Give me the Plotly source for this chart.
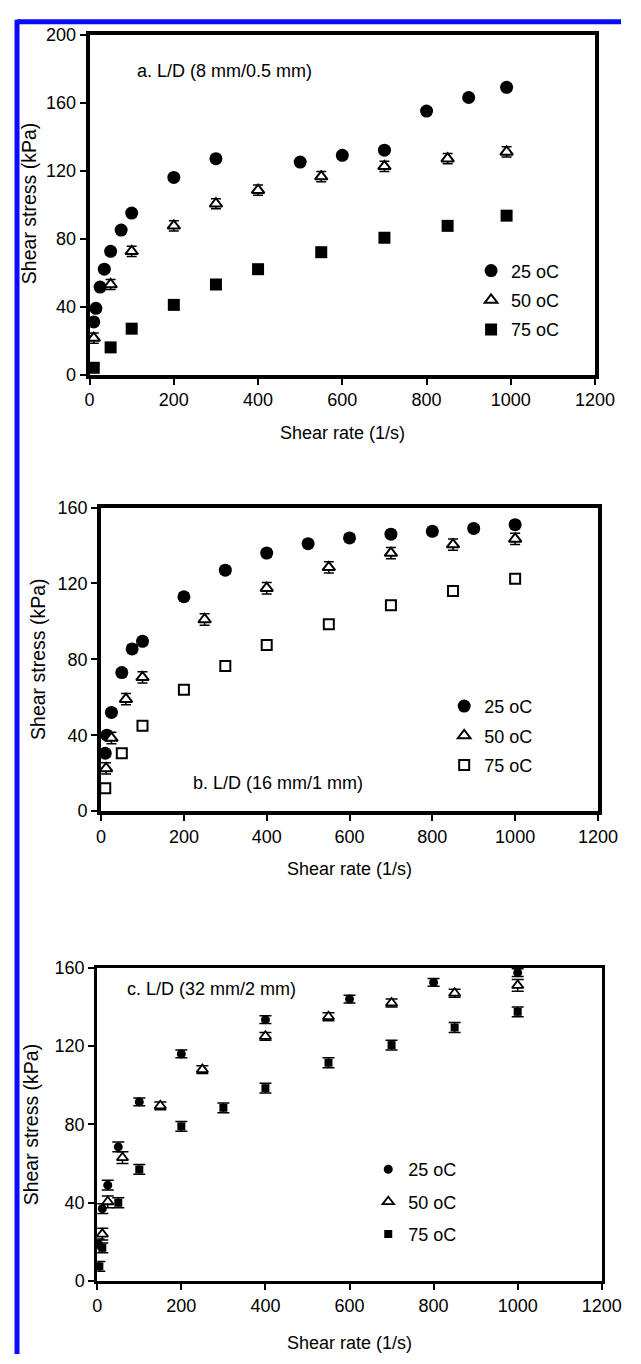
import plotly.graph_objects as go

W, H = 641, 1364

# ---------------- data ----------------
temps = ["25 oC", "50 oC", "75 oC"]

# Panel a: L/D (8 mm/0.5 mm)
a_x25 = [10, 15, 25, 35, 50, 75, 100, 200, 300, 500, 600, 700, 800, 900, 990]
a_y25 = [31, 39, 51.5, 62, 72.5, 85, 95, 116, 127, 125, 129, 132, 155, 163, 169]
a_e25 = [2, 2, 2, 2, 2, 2, 2, 2, 2, 2, 2, 2, 2, 2, 2]
a_x50 = [10, 50, 100, 200, 300, 400, 550, 700, 850, 990]
a_y50 = [21.5, 53, 72.5, 87.5, 100.5, 108.5, 116.5, 122.5, 127, 131]
a_e50 = [3, 3, 3, 3, 3, 3, 3, 3, 3, 3]
a_x75 = [10, 50, 100, 200, 300, 400, 550, 700, 850, 990]
a_y75 = [4, 16, 27, 41, 53, 62, 72, 80.5, 87.5, 93.5]
a_e75 = [2, 2, 2, 2, 2, 2, 2, 2, 2, 2]

# Panel b: L/D (16 mm/1 mm)
b_x25 = [10, 14, 25, 50, 75, 100, 200, 300, 400, 500, 600, 700, 800, 900, 1000]
b_y25 = [30.5, 40, 52, 73, 85.5, 89.5, 113, 127, 136, 141, 144, 146, 147.5, 149, 151]
b_e25 = [2, 2, 2, 2, 2, 2, 2, 2, 2, 2, 2, 2, 2, 2, 2]
b_x50 = [12, 25, 60, 100, 250, 400, 550, 700, 850, 1000]
b_y50 = [22.5, 38.5, 59, 70.5, 101, 117.5, 128.5, 136, 140.5, 143.5]
b_e50 = [3, 3, 3, 3, 3, 3, 3, 3, 3, 3]
b_x75 = [10, 50, 100, 200, 300, 400, 550, 700, 850, 1000]
b_y75 = [12, 30.5, 45, 64, 76.5, 87.5, 98.5, 108.5, 116, 122.5]
b_e75 = [1.5, 1.5, 1.5, 1.5, 1.5, 1.5, 1.5, 1.5, 1.5, 1.5]

# Panel c: L/D (32 mm/2 mm)
c_x25 = [3, 12, 25, 50, 100, 200, 400, 600, 800, 1000]
c_y25 = [19, 37, 49, 68.5, 91.5, 116, 133.5, 144, 152.5, 157.5]
c_e25 = [2.5, 2.5, 2.5, 2.5, 2, 2, 2, 2, 2, 2]
c_x50 = [12, 25, 60, 150, 250, 400, 550, 700, 850, 1000]
c_y50 = [24, 40.5, 63, 89.5, 108, 125, 135, 142, 147, 151]
c_e50 = [3, 3, 3, 2, 2, 2, 2, 2, 2, 3]
c_x75 = [5, 12, 50, 100, 200, 300, 400, 550, 700, 850, 1000]
c_y75 = [7.5, 17, 40, 57, 79, 88.5, 98.5, 111.5, 120.5, 129.5, 137.5]
c_e75 = [2.5, 2.5, 2.5, 2.5, 2.5, 2.5, 2.5, 2.5, 2.5, 2.5, 2.5]

panel_labels = ["a. L/D (8 mm/0.5 mm)", "b. L/D (16 mm/1 mm)", "c. L/D (32 mm/2 mm)"]
x_title = "Shear rate (1/s)"
y_title = "Shear stress (kPa)"
x_ticks = [0, 200, 400, 600, 800, 1000, 1200]
a_y_ticks = [0, 40, 80, 120, 160, 200]
bc_y_ticks = [0, 40, 80, 120, 160]

# ---------------- helpers ----------------
FONT = "Liberation Sans, Arial, sans-serif"

def px(x):
    return x / W

def py(y):
    return 1 - y / H

fig = go.Figure()

def add_series(x, y, e, name, axis_n, legend_name, symbol, size, fill, lw, capw, group):
    xa = "x" if axis_n == 1 else f"x{axis_n}"
    ya = "y" if axis_n == 1 else f"y{axis_n}"
    fig.add_trace(go.Scatter(
        x=x, y=y, mode="markers", name=name,
        xaxis=xa, yaxis=ya, legend=legend_name, legendgroup=group,
        marker=dict(symbol=symbol, size=size, color=fill,
                    line=dict(color="black", width=lw)),
        error_y=dict(type="data", array=e, visible=True, color="black",
                     thickness=1.5, width=capw),
        cliponaxis=False,
    ))

# panel a
add_series(a_x25, a_y25, a_e25, temps[0], 1, "legend", "circle", 13, "black", 0, 5, "a25")
add_series(a_x50, a_y50, a_e50, temps[1], 1, "legend", "triangle-up", 11, "white", 2, 5, "a50")
add_series(a_x75, a_y75, a_e75, temps[2], 1, "legend", "square", 12, "black", 0, 5, "a75")
# panel b
add_series(b_x25, b_y25, b_e25, temps[0], 2, "legend2", "circle", 13, "black", 0, 5, "b25")
add_series(b_x50, b_y50, b_e50, temps[1], 2, "legend2", "triangle-up", 11, "white", 2, 5, "b50")
add_series(b_x75, b_y75, b_e75, temps[2], 2, "legend2", "square", 10, "white", 2, 4, "b75")
# panel c
add_series(c_x25, c_y25, c_e25, temps[0], 3, "legend3", "circle", 9, "black", 0, 6, "c25")
add_series(c_x50, c_y50, c_e50, temps[1], 3, "legend3", "triangle-up", 10, "white", 1.8, 6, "c50")
add_series(c_x75, c_y75, c_e75, temps[2], 3, "legend3", "square", 8, "black", 0, 6, "c75")

tick_font = dict(family=FONT, size=18, color="black")

def axis_common(lw):
    return dict(showgrid=False, zeroline=False, showline=True, linecolor="black",
                linewidth=lw, mirror=True, ticks="outside", ticklen=6, tickwidth=1.5,
                tickcolor="black", tickfont=tick_font)

# pixel boxes of plot areas (left, right, top, bottom)
boxes = [(88, 614, 25, 370), (100, 617, 505, 813), (96, 621, 972, 1290)]
yranges = [[0, 200], [0, 160], [0, 160]]
yticks = [a_y_ticks, bc_y_ticks, bc_y_ticks]
lws = [4, 4, 3]

layout = dict(width=W, height=H, margin=dict(l=0, r=0, t=0, b=0),
              paper_bgcolor="white", plot_bgcolor="white", showlegend=True,
              font=dict(family=FONT, size=18, color="black"))

for i, (l, r, t, b) in enumerate(boxes):
    n = "" if i == 0 else str(i + 1)
    layout[f"xaxis{n}"] = dict(domain=[px(l), px(r)], range=[0, 1200],
                               tickvals=x_ticks, anchor=f"y{n}", **axis_common(lws[i]))
    layout[f"yaxis{n}"] = dict(domain=[py(b), py(t)], range=yranges[i],
                               tickvals=yticks[i], anchor=f"x{n}", **axis_common(lws[i]))

leg_pos = [(485, 246), (457, 688), (378, 1158)]
gaps = [3, 3, 6]
for i, (lx, ly) in enumerate(leg_pos):
    n = "legend" if i == 0 else f"legend{i + 1}"
    layout[n] = dict(x=px(lx), y=py(ly), xanchor="left", yanchor="top",
                     bgcolor="rgba(0,0,0,0)", borderwidth=0,
                     font=dict(family=FONT, size=18, color="black"),
                     traceorder="grouped", tracegroupgap=gaps[i])

fig.update_layout(**layout)

ann = []
# panel labels
for (tx, ty), txt in zip([(135, 62), (194, 785), (125, 994)], panel_labels):
    ann.append(dict(x=px(tx), y=py(ty), xref="paper", yref="paper", text=txt,
                    showarrow=False, xanchor="left", yanchor="middle",
                    font=dict(family=FONT, size=18, color="black")))
# x titles
for (tx, ty) in [(351, 429), (359, 872), (359, 1353)]:
    ann.append(dict(x=px(tx), y=py(ty), xref="paper", yref="paper", text=x_title,
                    showarrow=False, xanchor="center", yanchor="middle",
                    font=dict(family=FONT, size=18, color="black")))
# y titles
for (tx, ty) in [(25, 197), (35, 659), (28, 1131)]:
    ann.append(dict(x=px(tx), y=py(ty), xref="paper", yref="paper", text=y_title,
                    showarrow=False, xanchor="center", yanchor="middle", textangle=-90,
                    font=dict(family=FONT, size=19.5, color="black")))
fig.update_layout(annotations=ann)

# blue frame on top and left
fig.update_layout(shapes=[
    dict(type="line", xref="paper", yref="paper", x0=px(12.5), x1=1, y0=py(12), y1=py(12),
         line=dict(color="#0a0aff", width=5)),
    dict(type="line", xref="paper", yref="paper", x0=px(12.5), x1=px(12.5), y0=py(10), y1=0,
         line=dict(color="#0a0aff", width=5)),
])

fig.write_html("out.html")
